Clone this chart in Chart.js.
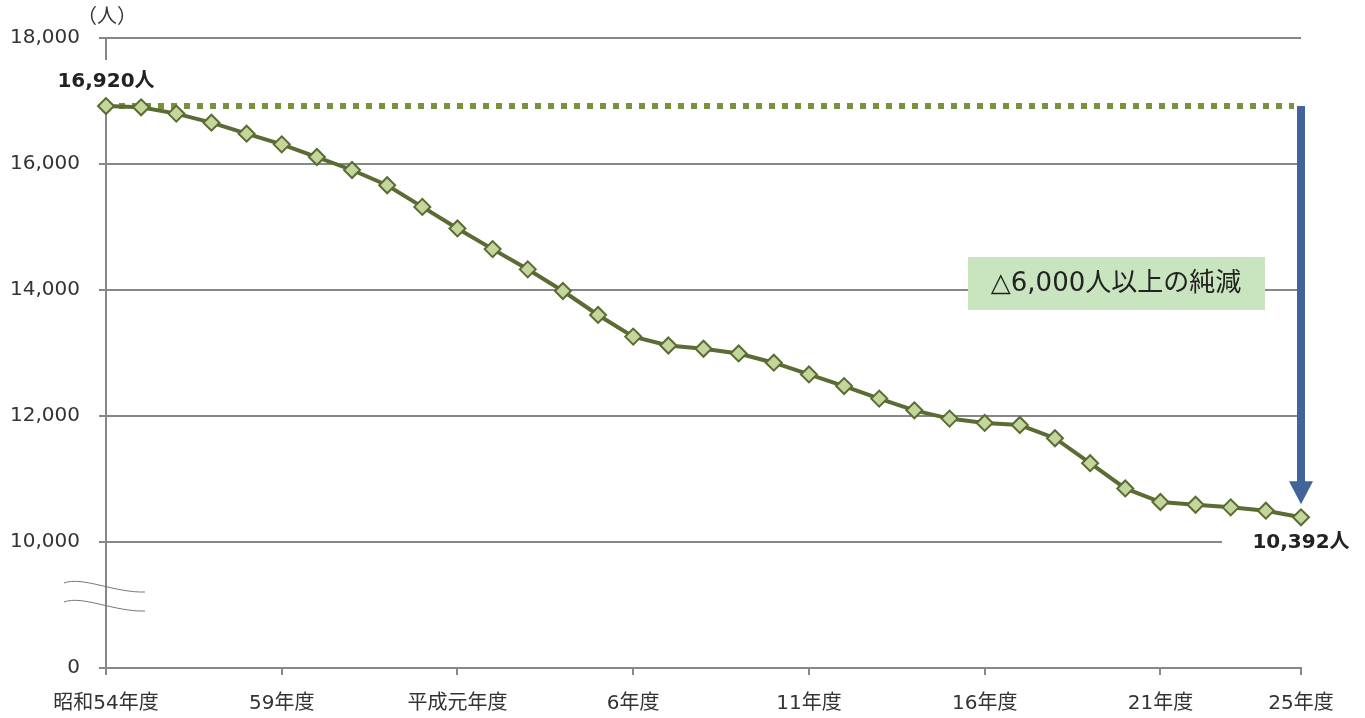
<!DOCTYPE html>
<html lang="ja">
<head>
<meta charset="utf-8">
<script src="https://cdn.jsdelivr.net/npm/chart.js@4.4.0/dist/chart.umd.min.js"></script>
<style>
html, body { margin: 0; padding: 0; background: #fff; }
</style>
</head>
<body>
<canvas id="chart" width="1365" height="718"></canvas>
<script>
// fiscal years, 昭和54年度 .. 平成25年度
var years = [
    '昭和54年度', '55年度', '56年度', '57年度', '58年度', '59年度', '60年度', '61年度', '62年度', '63年度',
    '平成元年度', '2年度', '3年度', '4年度', '5年度', '6年度', '7年度', '8年度', '9年度', '10年度',
    '11年度', '12年度', '13年度', '14年度', '15年度', '16年度', '17年度', '18年度', '19年度', '20年度',
    '21年度', '22年度', '23年度', '24年度', '25年度'
];

// number of people (人)
var people = [
    16920, 16900, 16800, 16656, 16481, 16312, 16111, 15905, 15663, 15319,
    14977, 14649, 14328, 13984, 13604, 13260, 13119, 13067, 12993, 12846,
    12660, 12475, 12276, 12090, 11959, 11890, 11857, 11647, 11251, 10850,
    10635, 10591, 10550, 10497, 10392
];

// x labels that are shown
var shownYears = ['昭和54年度', '59年度', '平成元年度', '6年度', '11年度', '16年度', '21年度', '25年度'];

// y axis is broken: the bottom tick stands for 0
var yMin = 8000;
var yMax = 18000;
var yStep = 2000;
var yBreakLabel = '0';
var yThroughLabel = 10000;

var unitLabel = '（人）';
var noteLabel = '△6,000人以上の純減';

var font = '"DejaVu Sans", "Noto Sans CJK JP", sans-serif';
var gridGrey = '#878787';
var lineGreen = '#5A6B34';

function fmt(v) {
    return v.toLocaleString('en-US');
}

var extras = {
    id: 'extras',
    beforeDatasetsDraw: function (chart) {
        var ctx = chart.ctx;
        var x = chart.scales.x;
        var y = chart.scales.y;
        var area = chart.chartArea;
        var n = people.length;
        var x0 = x.getPixelForValue(0);
        var x1 = x.getPixelForValue(n - 1);
        var yTop = y.getPixelForValue(people[0]);
        var yEnd = y.getPixelForValue(people[n - 1]);
        var y10k = y.getPixelForValue(yThroughLabel);
        var y14k = y.getPixelForValue(14000);

        ctx.save();
        // white boxes behind the end labels
        ctx.fillStyle = '#fff';
        ctx.fillRect(x0 - 52, yTop - 46, 104, 40);
        ctx.fillRect(x1 - 79, y10k - 3, 130, 6);

        // dotted reference line at the first value
        ctx.beginPath();
        ctx.setLineDash([6, 7]);
        ctx.lineWidth = 6;
        ctx.strokeStyle = '#77933C';
        ctx.moveTo(x0, yTop);
        ctx.lineTo(x1 - 7, yTop);
        ctx.stroke();
        ctx.setLineDash([]);

        // note box
        ctx.fillStyle = '#C9E5BF';
        ctx.fillRect(area.right - 333, y14k - 33, 297, 53);
        ctx.fillStyle = '#222';
        ctx.font = '26px ' + font;
        ctx.textAlign = 'center';
        ctx.textBaseline = 'middle';
        ctx.fillText(noteLabel, area.right - 185, y14k - 6);

        // value labels
        ctx.font = 'bold 20px ' + font;
        ctx.fillText(fmt(people[0]) + '人', x0, yTop - 24);
        ctx.fillText(fmt(people[n - 1]) + '人', x1, yEnd + 25);

        // unit
        ctx.font = '20px ' + font;
        ctx.fillStyle = '#333';
        ctx.fillText(unitLabel, x0 + 1, area.top - 20);
        ctx.restore();
    },
    afterDatasetsDraw: function (chart) {
        var ctx = chart.ctx;
        var x = chart.scales.x;
        var y = chart.scales.y;
        var n = people.length;
        var x1 = x.getPixelForValue(n - 1);
        var yTop = y.getPixelForValue(people[0]);
        var yEnd = y.getPixelForValue(people[n - 1]);
        var x0 = x.getPixelForValue(0);
        var y10k = y.getPixelForValue(yThroughLabel);

        ctx.save();
        // arrow
        ctx.fillStyle = '#41659A';
        ctx.fillRect(x1 - 4, yTop, 8, yEnd - 35 - yTop);
        ctx.beginPath();
        ctx.moveTo(x1 - 12, yEnd - 36);
        ctx.lineTo(x1 + 12, yEnd - 36);
        ctx.lineTo(x1, yEnd - 13);
        ctx.closePath();
        ctx.fill();

        // axis break marks
        ctx.strokeStyle = '#777';
        ctx.lineWidth = 1;
        [41, 60].forEach(function (d) {
            var b = y10k + d;
            ctx.beginPath();
            ctx.moveTo(x0 - 42, b);
            ctx.bezierCurveTo(x0 - 24, b - 7, x0 + 9, b + 10, x0 + 39, b + 9);
            ctx.stroke();
        });
        ctx.restore();
    }
};

new Chart(document.getElementById('chart'), {
    type: 'line',
    data: {
        labels: years,
        datasets: [{
            data: people,
            borderColor: lineGreen,
            borderWidth: 4,
            tension: 0,
            pointStyle: 'rectRot',
            pointRadius: 8,
            pointBackgroundColor: '#C3D69B',
            pointBorderColor: lineGreen,
            pointBorderWidth: 2
        }]
    },
    options: {
        responsive: false,
        animation: false,
        layout: {
            padding: { top: 38, right: 64, left: 0, bottom: 0 }
        },
        plugins: {
            legend: { display: false },
            tooltip: { enabled: false }
        },
        scales: {
            x: {
                type: 'category',
                offset: false,
                afterFit: function (s) { s.height = 50; },
                border: { color: gridGrey, width: 2 },
                grid: {
                    drawOnChartArea: false,
                    tickLength: 7,
                    lineWidth: 2,
                    color: function (c) {
                        return shownYears.indexOf(years[c.index]) >= 0 ? gridGrey : 'rgba(0,0,0,0)';
                    }
                },
                ticks: {
                    autoSkip: false,
                    maxRotation: 0,
                    padding: 17,
                    color: '#333',
                    font: { family: font, size: 20 },
                    callback: function (v, i) {
                        return shownYears.indexOf(years[i]) >= 0 ? years[i] : '';
                    }
                }
            },
            y: {
                min: yMin,
                max: yMax,
                afterFit: function (s) { s.width = 106; },
                border: { color: gridGrey, width: 2 },
                grid: {
                    color: gridGrey,
                    lineWidth: 2,
                    tickLength: 7
                },
                ticks: {
                    stepSize: yStep,
                    padding: 19,
                    color: '#333',
                    font: { family: font, size: 20 },
                    callback: function (v) {
                        return v === yMin ? yBreakLabel : fmt(v);
                    }
                }
            }
        }
    },
    plugins: [extras]
});
</script>
</body>
</html>
